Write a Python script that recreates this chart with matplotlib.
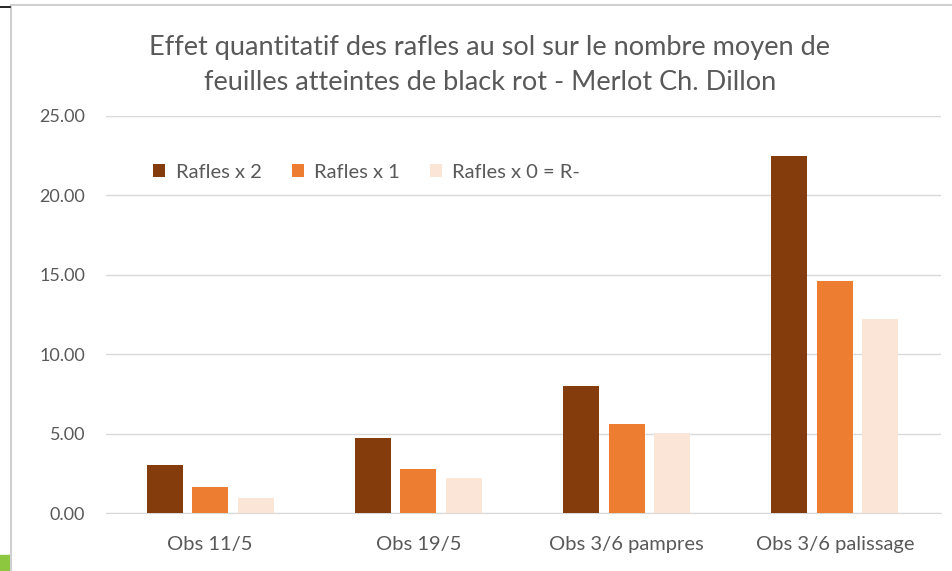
import matplotlib
matplotlib.use("Agg")
import matplotlib.pyplot as plt
import numpy as np
from matplotlib.patches import Rectangle
from matplotlib.lines import Line2D

categories = ["Obs 11/5", "Obs 19/5", "Obs 3/6 pampres", "Obs 3/6 palissage"]
series_names = ["Rafles x 2", "Rafles x 1", "Rafles x 0 = R-"]
rafles_x2 = [3.05, 4.72, 8.0, 22.5]
rafles_x1 = [1.68, 2.79, 5.6, 14.6]
rafles_x0 = [0.98, 2.2, 5.03, 12.2]
yticks = [0, 5, 10, 15, 20, 25]
colors = ["#843C0C", "#ED7D31", "#FBE5D6"]
text_color = "#595959"

plt.rcParams['font.family'] = ['Lato', 'DejaVu Sans']

fig = plt.figure(figsize=(9.53, 5.71), dpi=100)
ax = fig.add_axes([106/953, 1-513.3/571, (941-106)/953, (513.3-116)/571])

x = np.arange(len(categories))
bw = 0.173
pitch = 0.218
for i, (vals, c) in enumerate(zip([rafles_x2, rafles_x1, rafles_x0], colors)):
    ax.bar(x + (i-1)*pitch, vals, width=bw, color=c, label=series_names[i], zorder=3)

ax.set_xlim(-0.5, len(categories)-0.5 + 2/208)
ax.set_ylim(0, 25)
ax.set_yticks(yticks)
ax.set_yticklabels([f"{v:.2f}" for v in yticks], color=text_color, fontsize=13)
ax.set_xticks(x)
ax.set_xticklabels(categories, color=text_color, fontsize=14.5)
ax.tick_params(axis='both', length=0)
ax.tick_params(axis='y', pad=15)
ax.tick_params(axis='x', pad=16)
ax.grid(axis='y', color="#d9d9d9", linewidth=1, zorder=0)
for s in ["top", "right", "left"]:
    ax.spines[s].set_visible(False)
ax.spines["bottom"].set_color("#d9d9d9")

leg = ax.legend(loc='upper left', bbox_to_anchor=(0.035, 0.925), ncol=3, frameon=False,
                fontsize=14.5, handlelength=0.6, handleheight=0.6, columnspacing=1.5,
                handletextpad=0.5)
for t in leg.get_texts():
    t.set_color(text_color)

fig.text(490/953, 1-47/571, "Effet quantitatif des rafles au sol sur le nombre moyen de",
         ha='center', va='center', fontsize=19.5, color=text_color)
fig.text(490/953, 1-82/571, "feuilles atteintes de black rot - Merlot Ch. Dillon",
         ha='center', va='center', fontsize=19.5, color=text_color)

# chart frame
fig.add_artist(Line2D([11/953, 11/953], [0, 1-5/571], transform=fig.transFigure, color="#d0d0d0", lw=1.5))
fig.add_artist(Line2D([11/953, 951/953], [1-5/571, 1-5/571], transform=fig.transFigure, color="#d0d0d0", lw=1.5))
fig.add_artist(Line2D([0, 10/953], [1-7/571, 1-7/571], transform=fig.transFigure, color="black", lw=1.2))
fig.add_artist(Rectangle((0, 0), 10/953, 16/571, transform=fig.transFigure, color="#8DC63F"))

fig.savefig("out.png", dpi=100)
